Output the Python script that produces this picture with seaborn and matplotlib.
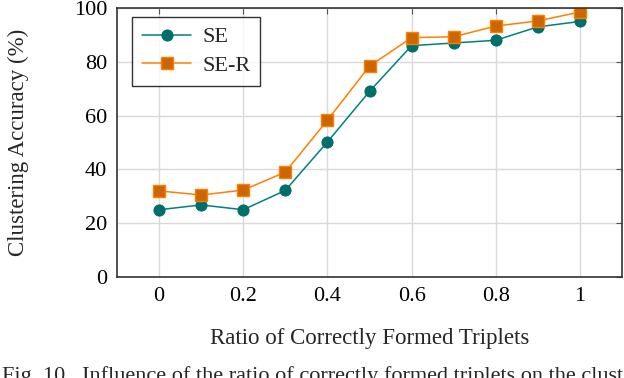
import pandas as pd
import matplotlib.pyplot as plt
import seaborn as sns

ratios = [0, 0.1, 0.2, 0.3, 0.4, 0.5, 0.6, 0.7, 0.8, 0.9, 1.0]
se_acc = [25, 26.8, 25, 32.2, 50.2, 69, 86, 87, 88, 93, 95]
se_r_acc = [32, 30.5, 32.3, 39, 58.3, 78.4, 89, 89.3, 93.3, 95.2, 98.5]
x_ticks = [0, 0.2, 0.4, 0.6, 0.8, 1.0]
x_tick_labels = ['0', '0.2', '0.4', '0.6', '0.8', '1']
y_ticks = [0, 20, 40, 60, 80, 100]

sns.set_style('whitegrid')
plt.rcParams['font.family'] = ['Liberation Serif', 'DejaVu Serif']

fig = plt.figure(figsize=(6.24, 3.78), dpi=100)
ax = fig.add_axes([0.1875, 0.2672, 0.8093, 0.7116])

df_se = pd.DataFrame({'ratio': ratios, 'acc': se_acc})
df_ser = pd.DataFrame({'ratio': ratios, 'acc': se_r_acc})

sns.lineplot(data=df_se, x='ratio', y='acc', ax=ax, color='#008080', lw=1.1,
             marker='o', markersize=8, markerfacecolor='#006f6a',
             markeredgecolor='#006f6a', label='SE')
sns.lineplot(data=df_ser, x='ratio', y='acc', ax=ax, color='#ff8000', lw=1.1,
             marker='s', markersize=8, markerfacecolor='#cc6600',
             markeredgecolor='#ff8000', markeredgewidth=1.0, label='SE-R')

ax.set_xlim(-0.1, 1.1)
ax.set_ylim(0, 100)
ax.set_xticks(x_ticks)
ax.set_xticklabels(x_tick_labels)
ax.set_yticks(y_ticks)
ax.grid(True, color='#d9d9d9', lw=1.0)
for s in ax.spines.values():
    s.set_color('#333333')
    s.set_linewidth(1.2)
ax.tick_params(direction='in', length=4, width=0.8, color='#555555',
               top=True, right=True, labelsize=16, pad=7, labelcolor='black')

ax.set_xlabel('Ratio of Correctly Formed Triplets', fontsize=16.5, labelpad=16)
ax.set_ylabel('Clustering Accuracy (%)', fontsize=16.5, labelpad=32)

leg = ax.legend(loc='upper left', fontsize=16, frameon=True, fancybox=False,
                edgecolor='black', borderpad=0.45, handlelength=2.2,
                handletextpad=0.5, labelspacing=0.35,
                bbox_to_anchor=(0.03, 0.967), borderaxespad=0)
leg.get_frame().set_linewidth(1.0)

# caption line, cut by the bottom edge as in the source image
fig.text(0.003, 1 - 366 / 378,
         'Fig. 10.  Influence of the ratio of correctly formed triplets on the clustering',
         fontsize=16, va='top', ha='left')

fig.savefig('out.png', dpi=100)
